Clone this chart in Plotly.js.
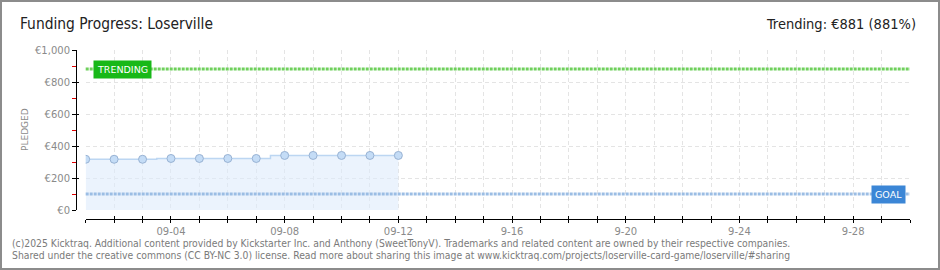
<!DOCTYPE html>
<html>
<head>
<meta charset="utf-8">
<script src="https://cdn.plot.ly/plotly-3.0.1.min.js"></script>
<style>
  html, body { margin: 0; padding: 0; background: #fff; }
  #wrap { position: relative; width: 940px; height: 270px; }
  #chart { position: absolute; left: 0; top: 0; width: 940px; height: 270px; }
  #frame { position: absolute; left: 0; top: 0; width: 940px; height: 270px; box-sizing: border-box; border: 2px solid #8c8c8c; pointer-events: none; }
</style>
</head>
<body>
<div id="wrap"><div id="chart"></div><div id="frame"></div></div>
<script>
// ---- data ----
const projectName = "Loserville";
const dates = ["2025-09-01","2025-09-02","2025-09-03","2025-09-04","2025-09-05","2025-09-06",
               "2025-09-07","2025-09-08","2025-09-09","2025-09-10","2025-09-11","2025-09-12"];
const pledged = [317, 317, 317, 322, 322, 322, 322, 341, 341, 341, 341, 341];
const goal = 100;
const trending = 881;
const axisStart = "2025-09-01";
const axisEnd = "2025-09-30";
const tickDates = ["2025-09-01","2025-09-02","2025-09-03","2025-09-04","2025-09-05","2025-09-06",
  "2025-09-07","2025-09-08","2025-09-09","2025-09-10","2025-09-11","2025-09-12","2025-09-13",
  "2025-09-14","2025-09-15","2025-09-16","2025-09-17","2025-09-18","2025-09-19","2025-09-20",
  "2025-09-21","2025-09-22","2025-09-23","2025-09-24","2025-09-25","2025-09-26","2025-09-27",
  "2025-09-28","2025-09-29","2025-09-30"];
const tickLabels = ["","","","09-04","","","","09-08","","","","09-12","","","","9-16","","","",
  "9-20","","","","9-24","","","","9-28","",""];
const footer1 = "(c)2025 Kicktraq. Additional content provided by Kickstarter Inc. and Anthony (SweetTonyV). Trademarks and related content are owned by their respective companies.";
const footer2 = "Shared under the creative commons (CC BY-NC 3.0) license. Read more about sharing this image at www.kicktraq.com/projects/loserville-card-game/loserville/#sharing";

// ---- layout geometry (pixels) ----
const W = 940, H = 270;
const mL = 76, mR = 30, mT = 50, mB = 51;
const pw = W - mL - mR, ph = H - mT - mB;
const px = v => (v - mL) / pw;
const py = v => (H - mB - v) / ph;
const xDom = [px(85.7), 1];
const yDom = [py(210), 1];

const tickFont = { family: "DejaVu Sans, sans-serif", size: 10, color: "#8a8a8a" };
const gridCol = "#e4e4e4";

const traces = [
  {
    x: dates, y: pledged, type: "scatter", mode: "lines+markers",
    line: { color: "#bcd6f2", width: 1.5, shape: "hvh" },
    fill: "tozeroy", fillcolor: "rgba(222,235,251,0.6)",
    marker: { size: 8, color: "#c4dcf6", line: { color: "#98b2d3", width: 1 } },
    hoverinfo: "skip", showlegend: false, xaxis: "x", yaxis: "y"
  },
  {
    x: dates, y: pledged, type: "scatter", mode: "none",
    hoverinfo: "skip", showlegend: false, xaxis: "x2", yaxis: "y2"
  }
];

const layout = {
  width: W, height: H,
  margin: { l: mL, r: mR, t: mT, b: mB },
  paper_bgcolor: "#fff", plot_bgcolor: "rgba(0,0,0,0)",
  showlegend: false,
  title: {
    text: "Funding Progress: " + projectName,
    x: 20 / W, xref: "container", xanchor: "left",
    y: 1 - 24 / H, yref: "container", yanchor: "middle",
    font: { family: "DejaVu Sans Condensed, DejaVu Sans, sans-serif", size: 15.4, color: "#222" }
  },
  xaxis: {
    type: "date", range: [axisStart, axisEnd], domain: xDom,
    anchor: "free", position: 0,
    showline: true, linecolor: "#000", linewidth: 1,
    ticks: "outside", ticklen: 3, tickcolor: "#000", tickwidth: 1,
    tickmode: "array", tickvals: tickDates, ticktext: tickLabels,
    tickfont: tickFont,
    showgrid: true, gridcolor: gridCol, griddash: "4px,3px", gridwidth: 1,
    zeroline: false, fixedrange: true
  },
  xaxis2: {
    type: "date", range: [axisStart, axisEnd], domain: xDom,
    overlaying: "x", anchor: "free", position: 0,
    showline: false, ticks: "inside", ticklen: 3, tickcolor: "#000",
    tickmode: "array", tickvals: tickDates, showticklabels: false,
    showgrid: false, zeroline: false
  },
  yaxis: {
    range: [0, 1000], domain: yDom, anchor: "free", position: 0,
    showline: true, linecolor: "#000", linewidth: 1,
    ticks: "outside", ticklen: 4, tickcolor: "#000",
    dtick: 200, tick0: 0, tickprefix: "€", tickformat: ",d",
    tickfont: tickFont,
    minor: { dtick: 100, tick0: 0, ticks: "outside", ticklen: 4, tickcolor: "#e00000", showgrid: false },
    showgrid: true, gridcolor: gridCol, griddash: "4px,3px",
    zeroline: false, fixedrange: true
  },
  yaxis2: {
    range: [0, 1000], domain: yDom, overlaying: "y", anchor: "free", position: 0,
    showline: false, ticks: "inside", ticklen: 2, tickcolor: "#000",
    dtick: 200, tick0: 0, showticklabels: false, showgrid: false, zeroline: false
  },
  shapes: [
    { type: "line", xref: "paper", x0: xDom[0], x1: 1, yref: "y", y0: trending, y1: trending,
      line: { color: "#6fd05c", width: 3, dash: "3px,1px" } },
    { type: "line", xref: "paper", x0: xDom[0], x1: 1, yref: "y", y0: goal, y1: goal,
      line: { color: "#9bbde4", width: 3, dash: "3px,1px" } }
  ],
  annotations: [
    { text: "Trending: €" + trending + " (" + Math.round(trending / goal * 100) + "%)",
      xref: "paper", x: px(918), xanchor: "right",
      yref: "paper", y: py(24), yanchor: "middle", showarrow: false,
      font: { family: "DejaVu Sans Condensed, DejaVu Sans, sans-serif", size: 14.5, color: "#222" } },
    { text: "TRENDING", xref: "x", x: axisStart, xshift: 7, xanchor: "left",
      yref: "y", y: trending, yanchor: "middle", showarrow: false,
      bgcolor: "#18b818", borderpad: 3,
      font: { family: "DejaVu Sans, sans-serif", size: 9.5, color: "#fff" } },
    { text: "GOAL", xref: "x", x: axisEnd, xshift: -4, xanchor: "right",
      yref: "y", y: goal, yanchor: "middle", showarrow: false,
      bgcolor: "#3b86d6", borderpad: 3,
      font: { family: "DejaVu Sans, sans-serif", size: 9.5, color: "#fff" } },
    { text: "PLEDGED", textangle: -90, xref: "paper", x: px(25), xanchor: "center",
      yref: "paper", y: py(130), yanchor: "middle", showarrow: false,
      font: { family: "DejaVu Sans, sans-serif", size: 9, color: "#8a8a8a" } },
    { text: footer1, xref: "paper", x: px(10), xanchor: "left",
      yref: "paper", y: py(243), yanchor: "middle", showarrow: false,
      font: { family: "DejaVu Sans Condensed, DejaVu Sans, sans-serif", size: 10.3, color: "#7a7a7a" } },
    { text: footer2, xref: "paper", x: px(10), xanchor: "left",
      yref: "paper", y: py(255), yanchor: "middle", showarrow: false,
      font: { family: "DejaVu Sans Condensed, DejaVu Sans, sans-serif", size: 10.3, color: "#7a7a7a" } }
  ]
};

Plotly.newPlot("chart", traces, layout, { staticPlot: true, displayModeBar: false });
</script>
</body>
</html>
